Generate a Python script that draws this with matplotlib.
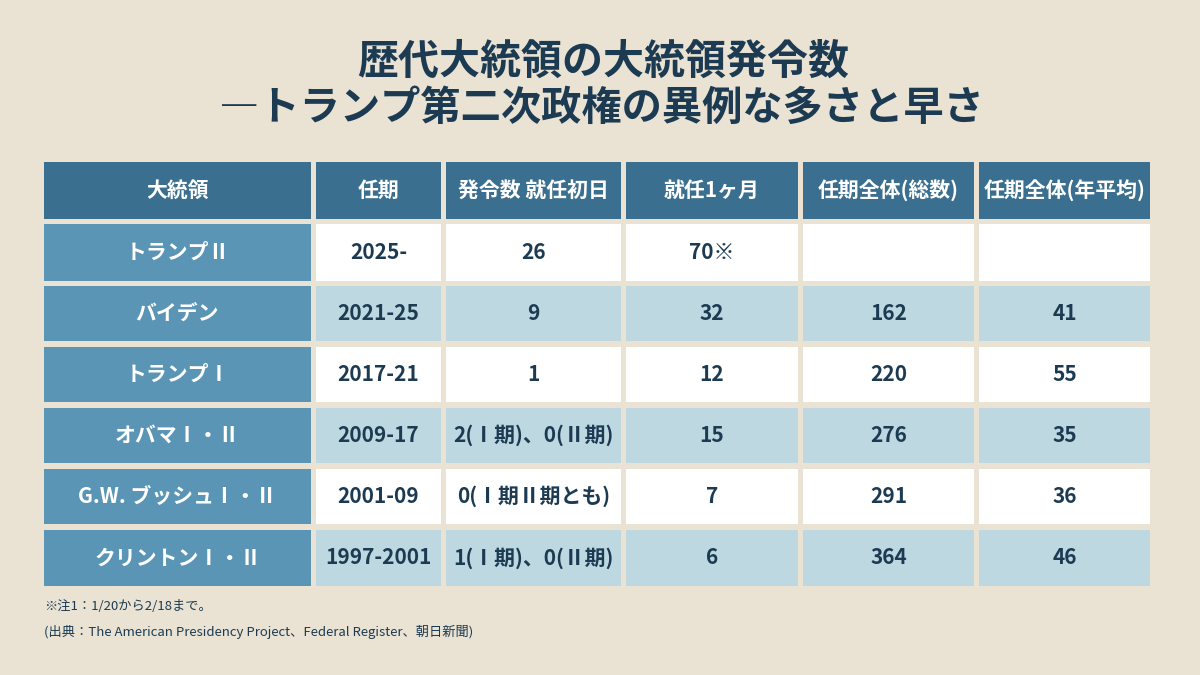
import numpy as np
import matplotlib
matplotlib.use("Agg")
from matplotlib import pyplot as plt
from matplotlib.patches import Rectangle

plt.rcParams['font.family'] = ['Noto Sans CJK JP', 'DejaVu Sans']

# ---------------------------------------------------------------- data
headers = ["大統領", "任期", "発令数 就任初日", "就任1ヶ月", "任期全体(総数)", "任期全体(年平均)"]
presidents = ["トランプⅡ", "バイデン", "トランプⅠ", "オバマⅠ・Ⅱ", "G.W. ブッシュⅠ・Ⅱ", "クリントンⅠ・Ⅱ"]
terms = ["2025-", "2021-25", "2017-21", "2009-17", "2001-09", "1997-2001"]
first_day = ["26", "9", "1", "2(Ⅰ期)、0(Ⅱ期)", "0(Ⅰ期Ⅱ期とも)", "1(Ⅰ期)、0(Ⅱ期)"]
first_month = ["70※", "32", "12", "15", "7", "6"]
total = ["", "162", "220", "276", "291", "364"]
per_year = ["", "41", "55", "35", "36", "46"]

title_1 = "歴代大統領の大統領発令数"
title_2 = "―トランプ第二次政権の異例な多さと早さ"
note1 = "※注1：1/20から2/18まで。"
note2 = "(出典：The American Presidency Project、Federal Register、朝日新聞)"

# ---------------------------------------------------------------- style
bg = "#EAE3D3"
navy = "#1C3B52"
head_col = "#3B6F8F"
first_col = "#5B95B5"
row_white = "#FFFFFF"
row_light = "#BDD8E1"

col_x = [44, 316, 446, 626, 803, 979, 1155]   # column edges in px
row_y = [162, 224, 286, 347, 408, 469, 530]   # top of each row in px
row_h = [57, 57, 55, 55, 55, 55, 56]
gap = 5

fig = plt.figure(figsize=(12, 6.75), dpi=100, facecolor=bg)
ax = fig.add_axes([0, 0, 1, 1])
ax.set_xlim(0, 1200)
ax.set_ylim(675, 0)
ax.axis("off")
ax.set_facecolor(bg)

ax.text(603, 62, title_1, ha="center", va="center", fontsize=29.5, fontweight="bold", color=navy)
ax.text(601, 108, title_2, ha="center", va="center", fontsize=29, fontweight="bold", color=navy)

table = [presidents, terms, first_day, first_month, total, per_year]

# header row
for j, h in enumerate(headers):
    x0 = col_x[j]
    w = col_x[j + 1] - x0 - gap
    ax.add_patch(Rectangle((x0, row_y[0]), w, row_h[0], facecolor=head_col, edgecolor="none"))
    ax.text(x0 + w / 2, row_y[0] + row_h[0] / 2, h, ha="center", va="center",
            fontsize=15, fontweight="bold", color="white")

# body rows
for i in range(len(presidents)):
    y0 = row_y[i + 1]
    hgt = row_h[i + 1]
    fill = row_white if i % 2 == 0 else row_light
    for j, col in enumerate(table):
        x0 = col_x[j]
        w = col_x[j + 1] - x0 - gap
        fc = first_col if j == 0 else fill
        tc = "white" if j == 0 else navy
        ax.add_patch(Rectangle((x0, y0), w, hgt, facecolor=fc, edgecolor="none"))
        ax.text(x0 + w / 2, y0 + hgt / 2, col[i], ha="center", va="center",
                fontsize=15, fontweight="bold", color=tc)

ax.text(44, 607, note1, ha="left", va="center", fontsize=9.5, color=navy)
ax.text(44, 632, note2, ha="left", va="center", fontsize=9.5, color=navy)

plt.savefig("out.png", dpi=100, facecolor=bg)
